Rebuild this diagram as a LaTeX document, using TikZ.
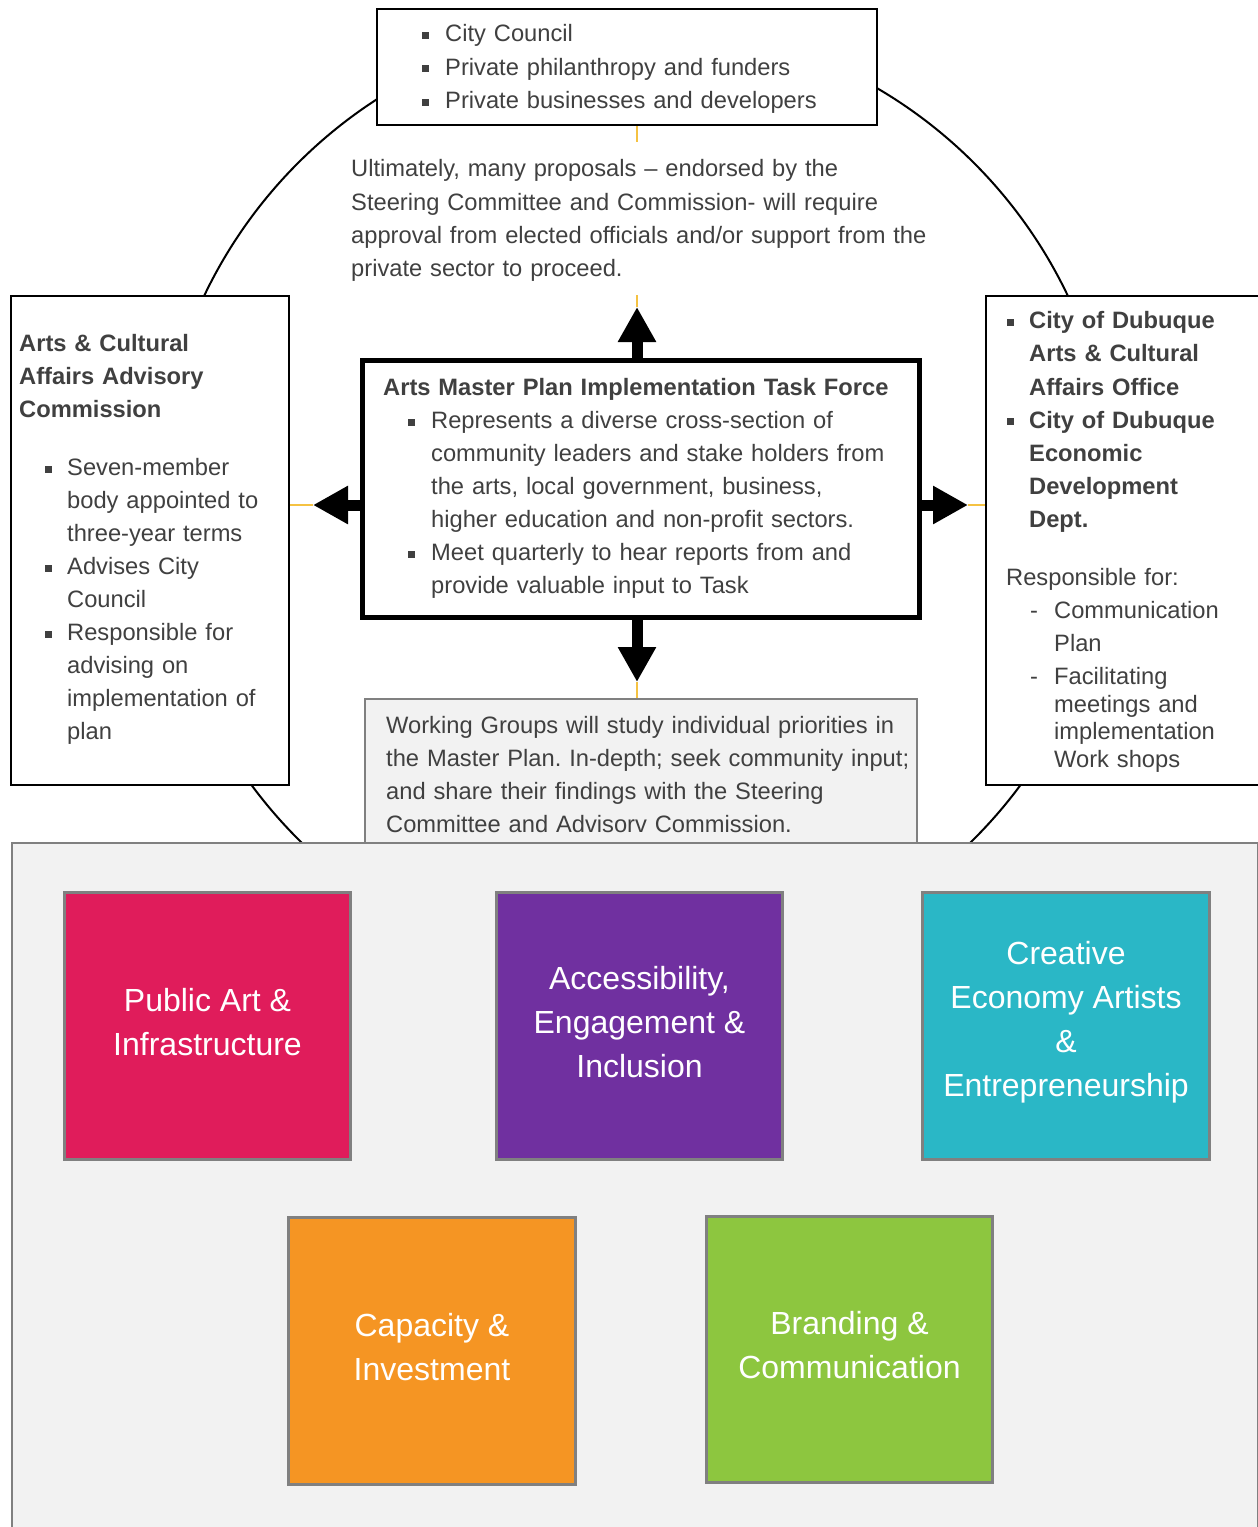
\documentclass[tikz,border=0pt]{standalone}
\usepackage{fontspec}
\setmainfont{Liberation Sans}
\usetikzlibrary{arrows.meta}
\frenchspacing
\definecolor{txt}{HTML}{404040}
\definecolor{yel}{HTML}{F5C242}
\definecolor{panelgray}{HTML}{F2F2F2}
\definecolor{bordergray}{HTML}{808080}
\definecolor{cpink}{HTML}{E01C5B}
\definecolor{cpurple}{HTML}{7030A0}
\definecolor{cteal}{HTML}{2AB7C6}
\definecolor{corange}{HTML}{F59523}
\definecolor{cgreen}{HTML}{8DC63F}
\newcommand\sqb{\rule[3pt]{7pt}{7pt}}
\newcommand\fst{\rule{0pt}{18pt}}
\newcommand\sqitem[3]{\noindent\hangindent=#2\hangafter=1\hbox to #2{\fst\hskip#1\sqb\hfil}#3\par}
\newcommand\dashitem[3]{\noindent\hangindent=#2\hangafter=1\hbox to #2{\fst\hskip#1-\hfil}#3\par}
\begin{document}
\begin{tikzpicture}[x=1pt,y=-1pt,
  box/.style={draw=black, line width=2pt, fill=white, anchor=north west, inner sep=0pt},
  txtblock/.style={anchor=north west, inner sep=0pt, text=txt, font=\fontsize{23.7}{33}\selectfont},
  colbox/.style={draw=bordergray, line width=3pt, anchor=north west, inner sep=0pt, minimum width=286pt, minimum height=267pt},
  ctext/.style={text=white, align=center, font=\fontsize{32}{44}\selectfont, yshift=4pt},
  conn/.style={draw=yel, line width=1.5pt},
  blockarrow/.style={line width=11pt, -{Triangle[length=35pt,width=36pt]}}
]
\useasboundingbox (0,0) rectangle (1258,1527);
\clip (0,0) rectangle (1258,1527);

% circle
\draw[line width=2pt] (636,501) circle[radius=478pt];

% boxes
\node[box, minimum width=500pt, minimum height=116pt] (top) at (376,8) {};
\node[box, minimum width=278pt, minimum height=489pt] (left) at (10,295) {};
\node[box, minimum width=300pt, minimum height=489pt] (right) at (985,295) {};
\node[draw=none, fill=white, anchor=north west, inner sep=0pt, minimum width=585pt, minimum height=153pt] (ut) at (345,142) {};
\node[draw=bordergray, line width=2pt, fill=panelgray, anchor=north west, inner sep=0pt, minimum width=552pt, minimum height=170pt] (wg) at (364,698) {};
\node[box, line width=5pt, minimum width=557pt, minimum height=257pt] (tf) at (360,358) {};

\coordinate (ax) at (637,505);
\coordinate (upTip) at (637,307);
\coordinate (leftTip) at (313,505);
\coordinate (rightTip) at (968,505);
\coordinate (downTip) at (637,682);

% yellow connectors (visible parts)
\draw[conn] (ax |- top.south) -- (ax |- ut.north);
\draw[conn] (ax |- ut.south) -- (upTip);
\draw[conn] (left.east |- ax) -- (leftTip);
\draw[conn] (rightTip) -- (right.west |- ax);
\draw[conn] (downTip) -- (ax |- wg.north);

% texts
\node[txtblock, text width=440pt, font=\fontsize{23.7}{33.5}\selectfont] (toptext) at (422,23.5) {%
\sqitem{0pt}{23pt}{City Council}%
\sqitem{0pt}{23pt}{Private philanthropy and funders}%
\sqitem{0pt}{23pt}{Private businesses and developers}};

\node[txtblock, align=left, text width=590pt, font=\fontsize{23.7}{33.3}\selectfont] (uttext) at (351,158.5) {\fst Ultimately, many proposals -- endorsed by the\\
Steering Committee and Commission- will require\\
approval from elected officials and/or support from the\\
private sector to proceed.};

\node[txtblock, text width=265pt] (lefttext) at (19,333.5) {%
{\bfseries\fst Arts \& Cultural\newline Affairs Advisory\newline Commission\par}%
\vspace{25pt}%
\sqitem{26pt}{48pt}{Seven-member\newline body appointed to\newline three-year terms}%
\sqitem{26pt}{48pt}{Advises City\newline Council}%
\sqitem{26pt}{48pt}{Responsible for\newline advising on\newline implementation of\newline plan}};

\node[txtblock, text width=530pt] (tftext) at (383,377.5) {%
{\bfseries\fst Arts Master Plan Implementation Task Force\par}%
\sqitem{25pt}{48pt}{Represents a diverse cross-section of\newline community leaders and stake holders from\newline the arts, local government, business,\newline higher education and non-profit sectors.}%
\sqitem{25pt}{48pt}{Meet quarterly to hear reports from and\newline provide valuable input to Task}};

\node[txtblock, text width=260pt, font=\fontsize{23.7}{33.2}\selectfont] (righttext) at (1007,310.5) {%
\sqitem{0pt}{22pt}{{\bfseries City of Dubuque\newline Arts \& Cultural\newline Affairs Office}}%
\sqitem{0pt}{22pt}{{\bfseries City of Dubuque\newline Economic\newline Development\newline Dept.}}%
\vspace{24pt}%
\noindent\hspace*{-1pt}Responsible for:\par
\dashitem{23pt}{47pt}{Communication\newline Plan}%
\vspace{5.4pt}%
{\fontsize{23.7}{27.6}\selectfont
\dashitem{23pt}{47pt}{Facilitating\newline meetings and\newline implementation\newline Work shops}}};

\node[txtblock, align=left, text width=540pt] (wgtext) at (386,715.5) {\fst Working Groups will study individual priorities in\\
the Master Plan. In-depth; seek community input;\\
and share their findings with the Steering\\
Committee and Advisorv Commission.};

% arrows
\draw[blockarrow] (ax |- tf.north) -- (upTip);
\draw[blockarrow] (tf.west |- ax) -- (leftTip);
\draw[blockarrow] (tf.east |- ax) -- (rightTip);
\draw[blockarrow] (ax |- tf.south) -- (downTip);

% bottom panel
\node[draw=bordergray, line width=2pt, fill=panelgray, anchor=north west, inner sep=0pt, minimum width=1246pt, minimum height=720pt] (panel) at (11,842) {};

\node[colbox, fill=cpink] (pub) at (63,891) {};
\node[colbox, fill=cpurple] (acc) at (495,891) {};
\node[colbox, fill=cteal, minimum width=287pt] (cre) at (921,891) {};
\node[colbox, fill=corange, minimum width=287pt] (cap) at (287,1216) {};
\node[colbox, fill=cgreen, minimum height=266pt] (bra) at (705,1215) {};

\node[ctext] (pubt) at (pub.center) {Public Art \&\\Infrastructure};
\node[ctext] (acct) at (acc.center) {Accessibility,\\Engagement \&\\Inclusion};
\node[ctext] (cret) at (cre.center) {Creative\\Economy Artists\\\&\\Entrepreneurship};
\node[ctext] (capt) at (cap.center) {Capacity \&\\Investment};
\node[ctext] (brat) at (bra.center) {Branding \&\\Communication};
\end{tikzpicture}
\end{document}
